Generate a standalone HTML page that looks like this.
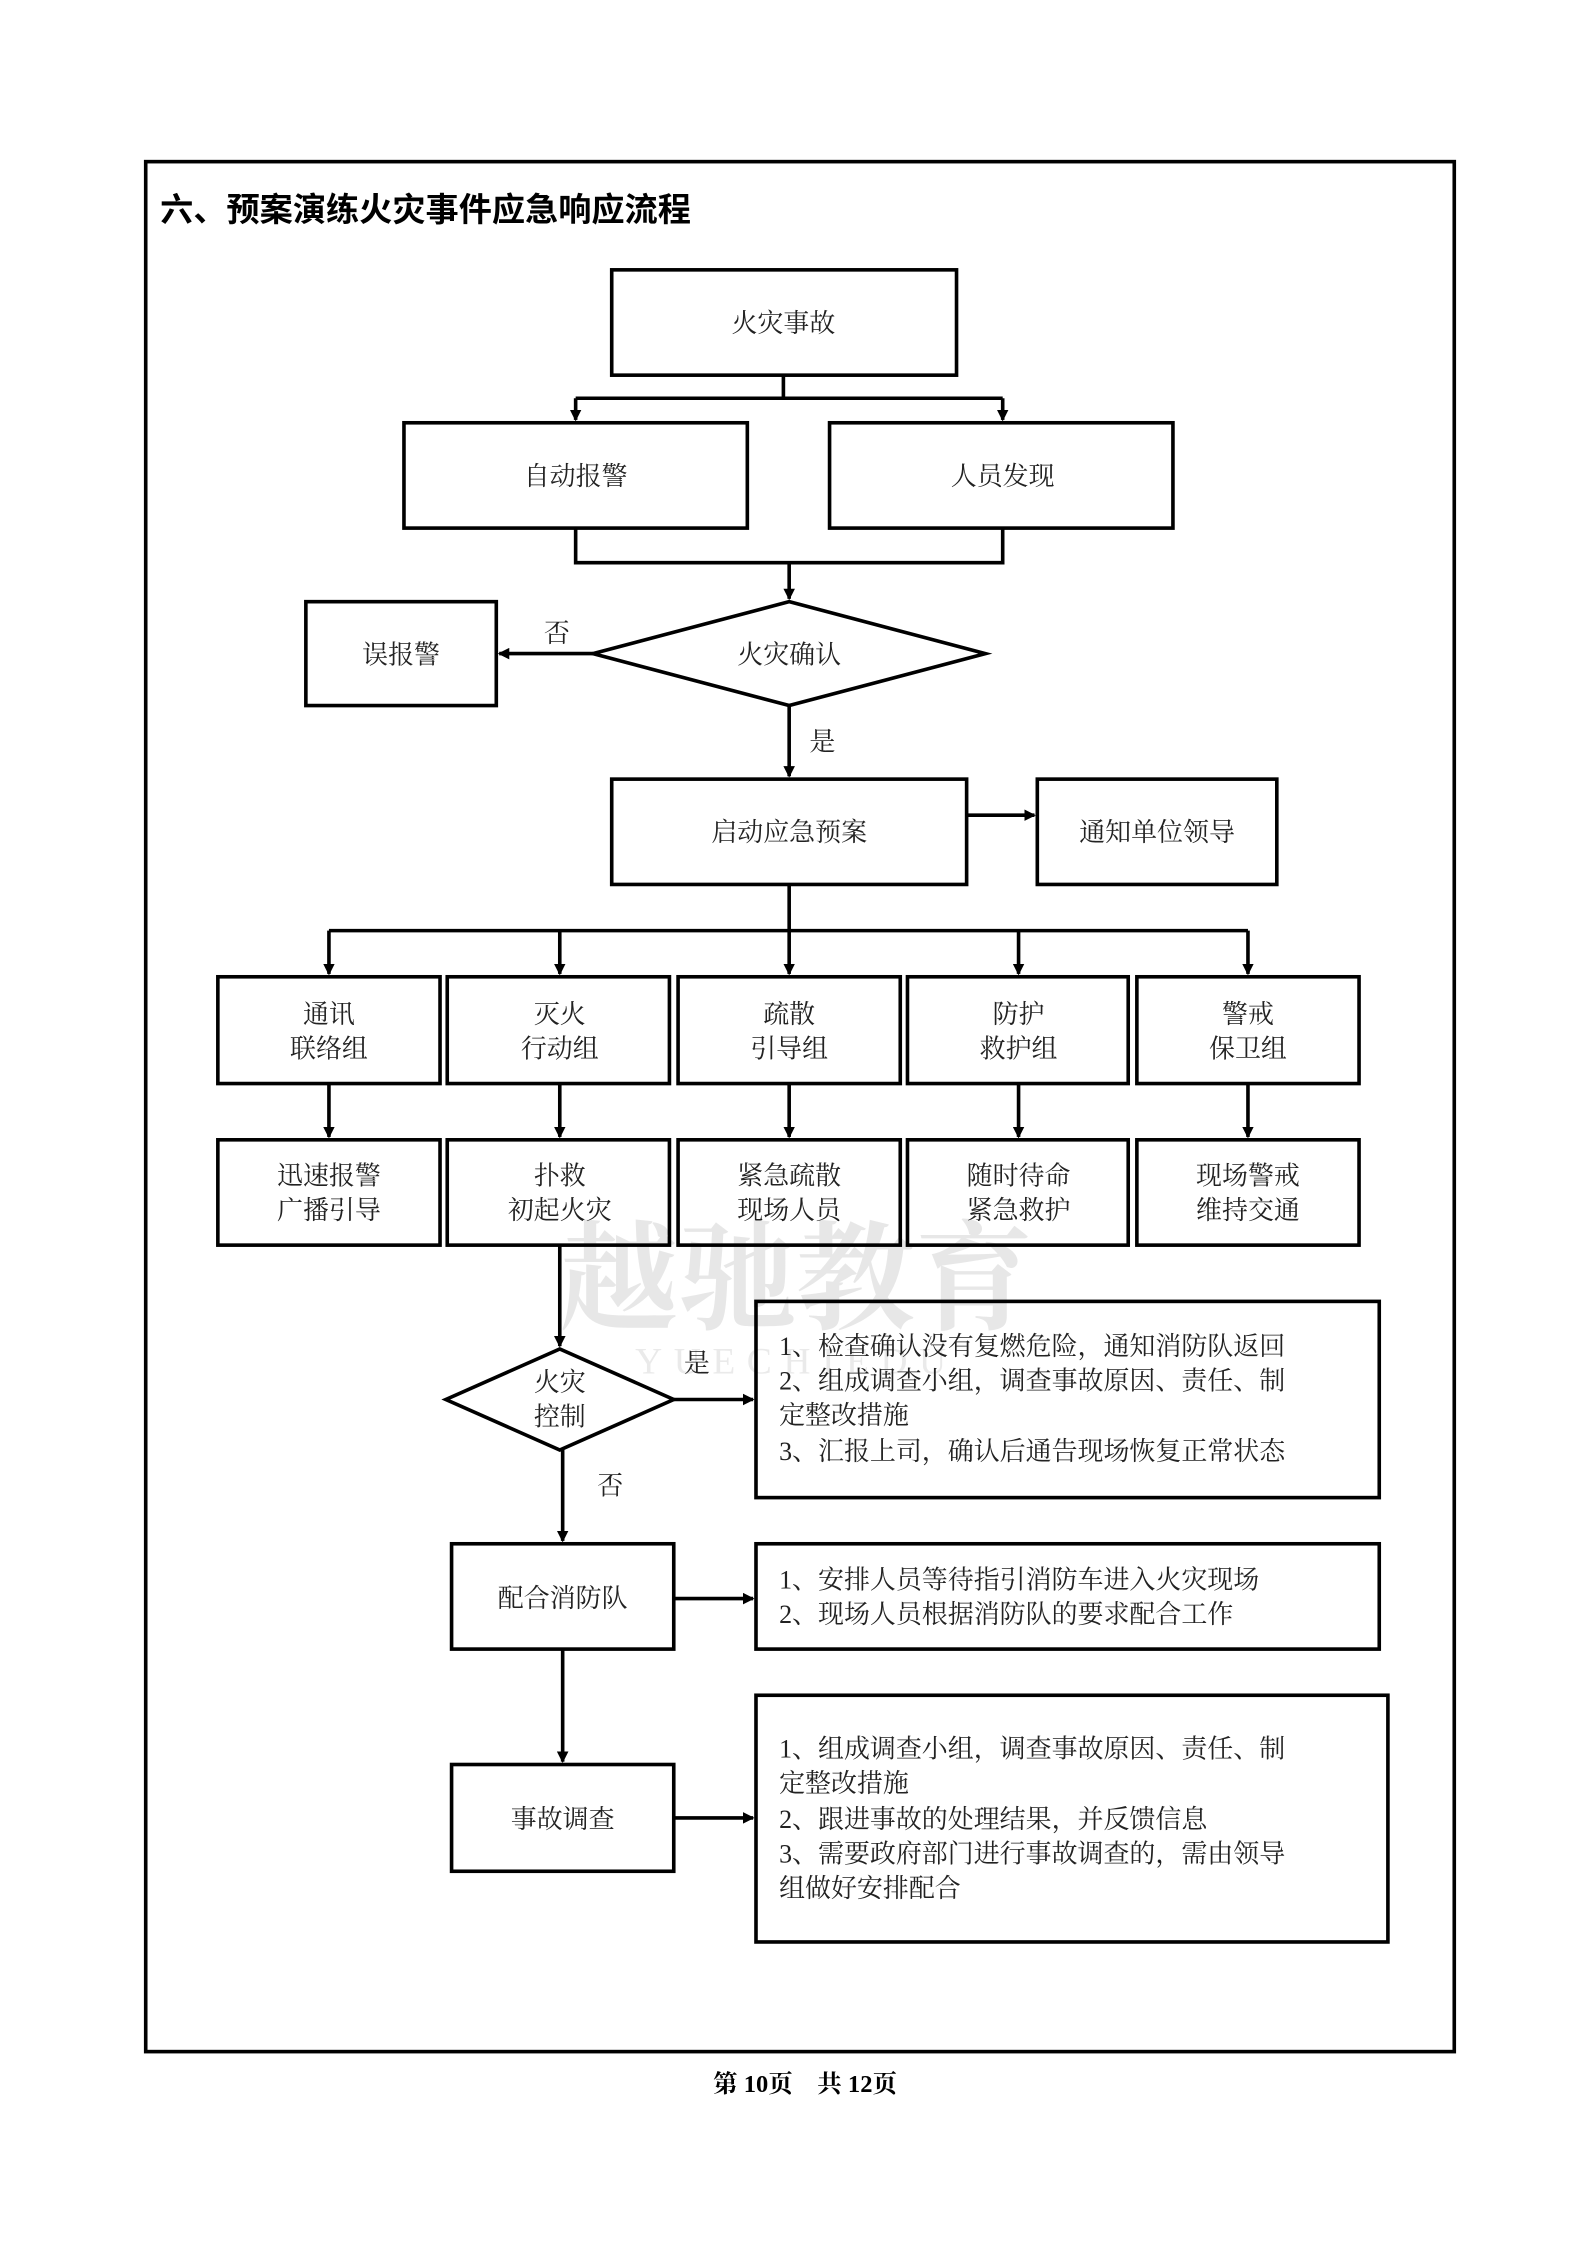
<!DOCTYPE html>
<html><head><meta charset="utf-8">
<style>
html,body{margin:0;padding:0;background:#fff;}
svg{display:block;}
text{font-family:"Liberation Serif","Noto Serif CJK SC",serif;fill:#222;}
</style></head>
<body>
<svg width="1587" height="2245" viewBox="0 0 1100 1556" xmlns="http://www.w3.org/2000/svg">
<defs>
<marker id="a" markerWidth="8" markerHeight="8" refX="7" refY="4" orient="auto" markerUnits="userSpaceOnUse">
<path d="M0,0 L8,4 L0,8 z" fill="#000"/></marker>
</defs>
<!-- watermark -->
<text x="552" y="915" font-size="82" text-anchor="middle" style="fill:#d8d8d8;font-weight:bold" opacity="0.6">越驰教育</text>
<text x="552" y="952" font-size="26" text-anchor="middle" style="fill:#ddd" letter-spacing="8" opacity="0.6">YUECHIEDU</text>

<rect x="101" y="112" width="907" height="1310" fill="none" stroke="#000" stroke-width="2.5"/>
<text x="111" y="153" font-size="23" style="font-family:'Liberation Sans','Noto Sans CJK SC',sans-serif;font-weight:bold;fill:#000">六、预案演练火灾事件应急响应流程</text>

<g fill="none" stroke="#000" stroke-width="2.5">
<rect x="424" y="187" width="239" height="73"/>
<rect x="280" y="293" width="238" height="73"/>
<rect x="575" y="293" width="238" height="73"/>
<rect x="212" y="417" width="132" height="72"/>
<polygon points="411,453 547,417 683,453 547,489"/>
<rect x="424" y="540" width="246" height="73"/>
<rect x="719" y="540" width="166" height="73"/>
<rect x="151" y="677" width="154" height="74"/>
<rect x="310" y="677" width="154" height="74"/>
<rect x="470" y="677" width="154" height="74"/>
<rect x="629" y="677" width="153" height="74"/>
<rect x="788" y="677" width="154" height="74"/>
<rect x="151" y="790" width="154" height="73"/>
<rect x="310" y="790" width="154" height="73"/>
<rect x="470" y="790" width="154" height="73"/>
<rect x="629" y="790" width="153" height="73"/>
<rect x="788" y="790" width="154" height="73"/>
<polygon points="309,970 388,935 467,970 388,1005"/>
<rect x="524" y="902" width="432" height="136"/>
<rect x="313" y="1070" width="154" height="73"/>
<rect x="524" y="1070" width="432" height="73"/>
<rect x="313" y="1223" width="154" height="74"/>
<rect x="524" y="1175" width="438" height="171"/>
</g>

<g fill="none" stroke="#000" stroke-width="2.5">
<polyline points="543,260 543,276"/>
<line x1="399" y1="276" x2="695" y2="276"/>
<line x1="399" y1="276" x2="399" y2="291" marker-end="url(#a)"/>
<line x1="695" y1="276" x2="695" y2="291" marker-end="url(#a)"/>
<polyline points="399,366 399,390 695,390 695,366"/>
<line x1="547" y1="390" x2="547" y2="415" marker-end="url(#a)"/>
<line x1="411" y1="453" x2="346" y2="453" marker-end="url(#a)"/>
<line x1="547" y1="489" x2="547" y2="538" marker-end="url(#a)"/>
<line x1="670" y1="565" x2="717" y2="565" marker-end="url(#a)"/>
<line x1="547" y1="613" x2="547" y2="645"/>
<line x1="228" y1="645" x2="865" y2="645"/>
<line x1="228" y1="645" x2="228" y2="675" marker-end="url(#a)"/>
<line x1="388" y1="645" x2="388" y2="675" marker-end="url(#a)"/>
<line x1="547" y1="645" x2="547" y2="675" marker-end="url(#a)"/>
<line x1="706" y1="645" x2="706" y2="675" marker-end="url(#a)"/>
<line x1="865" y1="645" x2="865" y2="675" marker-end="url(#a)"/>
<line x1="228" y1="751" x2="228" y2="788" marker-end="url(#a)"/>
<line x1="388" y1="751" x2="388" y2="788" marker-end="url(#a)"/>
<line x1="547" y1="751" x2="547" y2="788" marker-end="url(#a)"/>
<line x1="706" y1="751" x2="706" y2="788" marker-end="url(#a)"/>
<line x1="865" y1="751" x2="865" y2="788" marker-end="url(#a)"/>
<line x1="388" y1="863" x2="388" y2="933" marker-end="url(#a)"/>
<line x1="467" y1="970" x2="522" y2="970" marker-end="url(#a)"/>
<line x1="390" y1="1005" x2="390" y2="1068" marker-end="url(#a)"/>
<line x1="467" y1="1108" x2="522" y2="1108" marker-end="url(#a)"/>
<line x1="390" y1="1143" x2="390" y2="1221" marker-end="url(#a)"/>
<line x1="467" y1="1260" x2="522" y2="1260" marker-end="url(#a)"/>
</g>

<g font-size="18" text-anchor="middle">
<text x="543" y="230">火灾事故</text>
<text x="399" y="336">自动报警</text>
<text x="695" y="336">人员发现</text>
<text x="278" y="460">误报警</text>
<text x="547" y="460">火灾确认</text>
<text x="386" y="445">否</text>
<text x="570" y="520">是</text>
<text x="547" y="583">启动应急预案</text>
<text x="802" y="583">通知单位领导</text>
<text x="228" y="709">通讯</text><text x="228" y="733">联络组</text>
<text x="388" y="709">灭火</text><text x="388" y="733">行动组</text>
<text x="547" y="709">疏散</text><text x="547" y="733">引导组</text>
<text x="706" y="709">防护</text><text x="706" y="733">救护组</text>
<text x="865" y="709">警戒</text><text x="865" y="733">保卫组</text>
<text x="228" y="821">迅速报警</text><text x="228" y="845">广播引导</text>
<text x="388" y="821">扑救</text><text x="388" y="845">初起火灾</text>
<text x="547" y="821">紧急疏散</text><text x="547" y="845">现场人员</text>
<text x="706" y="821">随时待命</text><text x="706" y="845">紧急救护</text>
<text x="865" y="821">现场警戒</text><text x="865" y="845">维持交通</text>
<text x="388" y="964">火灾</text><text x="388" y="988">控制</text>
<text x="483" y="951">是</text>
<text x="423" y="1036">否</text>
<text x="390" y="1114">配合消防队</text>
<text x="390" y="1267">事故调查</text>
</g>
<g font-size="18">
<text x="540" y="939">1、检查确认没有复燃危险，通知消防队返回</text>
<text x="540" y="963">2、组成调查小组，调查事故原因、责任、制</text>
<text x="540" y="987">定整改措施</text>
<text x="540" y="1012">3、汇报上司，确认后通告现场恢复正常状态</text>
<text x="540" y="1101">1、安排人员等待指引消防车进入火灾现场</text>
<text x="540" y="1125">2、现场人员根据消防队的要求配合工作</text>
<text x="540" y="1218">1、组成调查小组，调查事故原因、责任、制</text>
<text x="540" y="1242">定整改措施</text>
<text x="540" y="1267">2、跟进事故的处理结果，并反馈信息</text>
<text x="540" y="1291">3、需要政府部门进行事故调查的，需由领导</text>
<text x="540" y="1315">组做好安排配合</text>
</g>
<text x="558" y="1450" font-size="17" text-anchor="middle" style="font-weight:bold;fill:#000">第 10页　共 12页</text>
</svg>
</body></html>
